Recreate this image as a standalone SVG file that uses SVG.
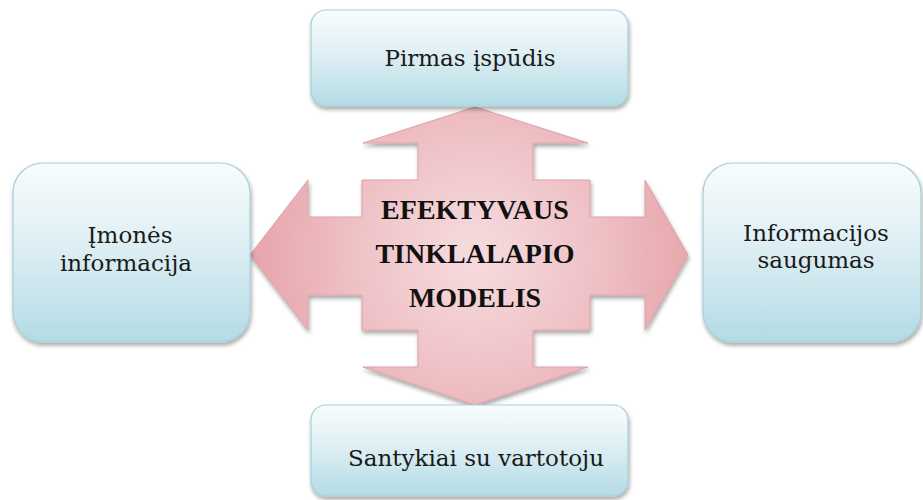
<svg xmlns="http://www.w3.org/2000/svg" width="923" height="500" viewBox="0 0 923 500">
  <defs>
    <linearGradient id="boxGrad" x1="0" y1="0" x2="0" y2="1">
      <stop offset="0" stop-color="#f8fcfd"/>
      <stop offset="0.4" stop-color="#e2f1f5"/>
      <stop offset="1" stop-color="#b3dbe5"/>
    </linearGradient>
    <radialGradient id="arrowGrad" cx="475" cy="255" r="230" gradientUnits="userSpaceOnUse">
      <stop offset="0" stop-color="#f6dcdf"/>
      <stop offset="0.5" stop-color="#efc3c7"/>
      <stop offset="1" stop-color="#e6a3a9"/>
    </radialGradient>
    <filter id="shadow" x="-10%" y="-10%" width="120%" height="125%">
      <feGaussianBlur in="SourceAlpha" stdDeviation="2"/>
      <feOffset dx="1" dy="3" result="b"/>
      <feComponentTransfer><feFuncA type="linear" slope="0.35"/></feComponentTransfer>
      <feMerge><feMergeNode/><feMergeNode in="SourceGraphic"/></feMerge>
    </filter>
    <style>
      .box { fill: url(#boxGrad); stroke: #a7cfd9; stroke-width: 1.2; filter: url(#shadow); }
      .lbl { font-family: "DejaVu Serif", "Liberation Serif", serif; font-size: 23px; fill: #1a1a1a; text-anchor: middle; }
      .ctr { font-family: "Liberation Serif", "Times New Roman", serif; font-weight: bold; font-size: 28px; fill: #111; text-anchor: middle; }
      .arrow { fill: url(#arrowGrad); stroke: #dba2a8; stroke-width: 1; filter: url(#shadow); }
    </style>
  </defs>
  <rect width="923" height="500" fill="#ffffff"/>

  <g id="connectors"></g>

  <g id="center">
    <polygon class="arrow" points="475,107 588,143 533,143 533,180 590,180 590,217 645,217 645,180 688,255 645,330 645,295 590,295 590,330 533,330 533,367 588,367 475,405 363,367 418,367 418,330 362,330 362,295 308,295 308,330 250,255 308,180 308,217 362,217 362,180 418,180 418,143 363,143"/>
    <text class="ctr" x="475" y="219">EFEKTYVAUS</text>
    <text class="ctr" x="475" y="263">TINKLALAPIO</text>
    <text class="ctr" x="475" y="307">MODELIS</text>
  </g>

  <g id="top">
    <rect class="box" x="311" y="10" width="317" height="96" rx="15" ry="15"/>
    <text class="lbl" x="470" y="66">Pirmas įspūdis</text>
  </g>

  <g id="left">
    <rect class="box" x="13" y="163" width="237" height="179" rx="30" ry="30"/>
    <text class="lbl" x="130" y="243">Įmonės</text>
    <text class="lbl" x="126" y="271">informacija</text>
  </g>

  <g id="right">
    <rect class="box" x="703" y="163" width="218" height="179" rx="30" ry="30"/>
    <text class="lbl" x="816" y="241">Informacijos</text>
    <text class="lbl" x="816" y="268">saugumas</text>
  </g>

  <g id="bottom">
    <rect class="box" x="311" y="405" width="317" height="91" rx="15" ry="15"/>
    <text class="lbl" x="476" y="466">Santykiai su vartotoju</text>
  </g>
</svg>
